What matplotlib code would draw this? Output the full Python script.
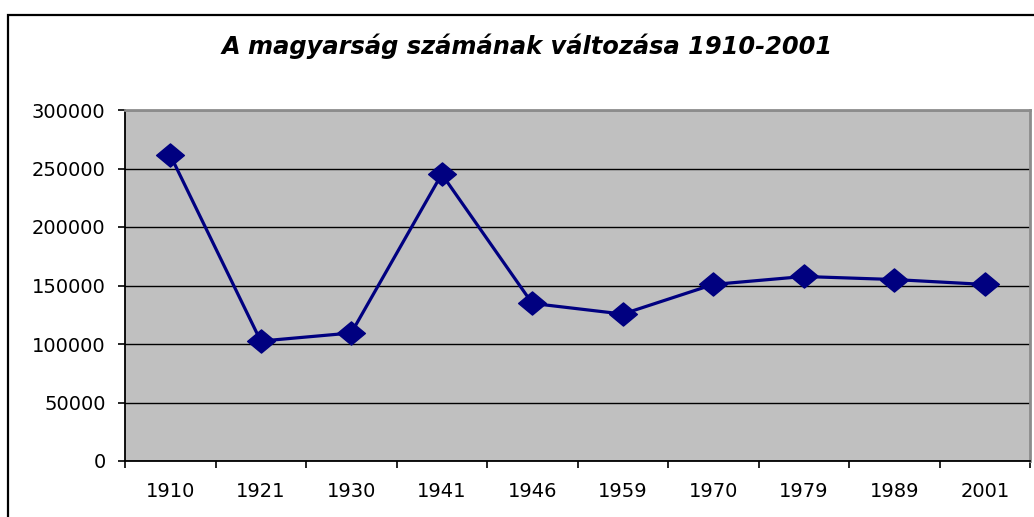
import matplotlib
matplotlib.use("Agg")
import matplotlib.pyplot as plt
from matplotlib.patches import Rectangle
from matplotlib.path import Path
import numpy as np

plt.rcParams['font.family'] = ['DejaVu Sans']

title = "A magyarság számának változása 1910-2001"
years = ["1910", "1921", "1930", "1941", "1946", "1959", "1970", "1979", "1989", "2001"]
values = [261500, 102500, 109400, 245200, 134700, 125600, 150900, 157700, 155100, 150900]
yticks = [0, 50000, 100000, 150000, 200000, 250000, 300000]

W, H = 1034, 517
fig = plt.figure(figsize=(W / 100, H / 100), dpi=100)
fig.patch.set_facecolor('white')

# outer chart border
fig.patches.append(Rectangle((8 / W, -0.1), 1.2, (H - 15) / H + 0.1,
                             transform=fig.transFigure, fill=False,
                             edgecolor='black', linewidth=1.6, zorder=0))

l, r, t, b = 125, 1030, 110, 461
ax = fig.add_axes([l / W, (H - b) / H, (r - l) / W, (b - t) / H])
ax.set_facecolor('#c0c0c0')

x = np.arange(len(years))
diamond = Path([(0, 1), (1.2, 0), (0, -1), (-1.2, 0), (0, 1)],
               [Path.MOVETO, Path.LINETO, Path.LINETO, Path.LINETO, Path.CLOSEPOLY])
ax.plot(x, values, color='#000080', linewidth=2.3, marker=diamond,
        markersize=20, markerfacecolor='#000080', markeredgecolor='#000080',
        zorder=3, clip_on=False)

ax.set_xlim(-0.5, len(years) - 0.5)
ax.set_ylim(0, 300000)
ax.set_yticks(yticks)
ax.set_yticklabels([str(v) for v in yticks])
ax.yaxis.grid(True, color='black', linewidth=1.0)
ax.set_axisbelow(True)

ax.set_xticks(np.arange(-0.5, len(years), 1.0))
ax.set_xticklabels([])
ax.set_xticks(x, minor=True)
ax.set_xticklabels(years, minor=True)
ax.tick_params(axis='x', which='major', direction='out', length=5, width=1.2, color='black')
ax.tick_params(axis='x', which='minor', length=0, pad=15, labelsize=14)
ax.tick_params(axis='y', direction='out', length=5, width=1.2, pad=9, labelsize=14)

for s in ['left', 'bottom']:
    ax.spines[s].set_color('black')
    ax.spines[s].set_linewidth(1.3)
for s in ['top', 'right']:
    ax.spines[s].set_color('#8c8c8c')
    ax.spines[s].set_linewidth(2.0)

fig.text(527 / W, (H - 46) / H, title, ha='center', va='center',
         fontsize=17.4, fontweight='bold', fontstyle='italic')

fig.savefig('out.png', dpi=100)
